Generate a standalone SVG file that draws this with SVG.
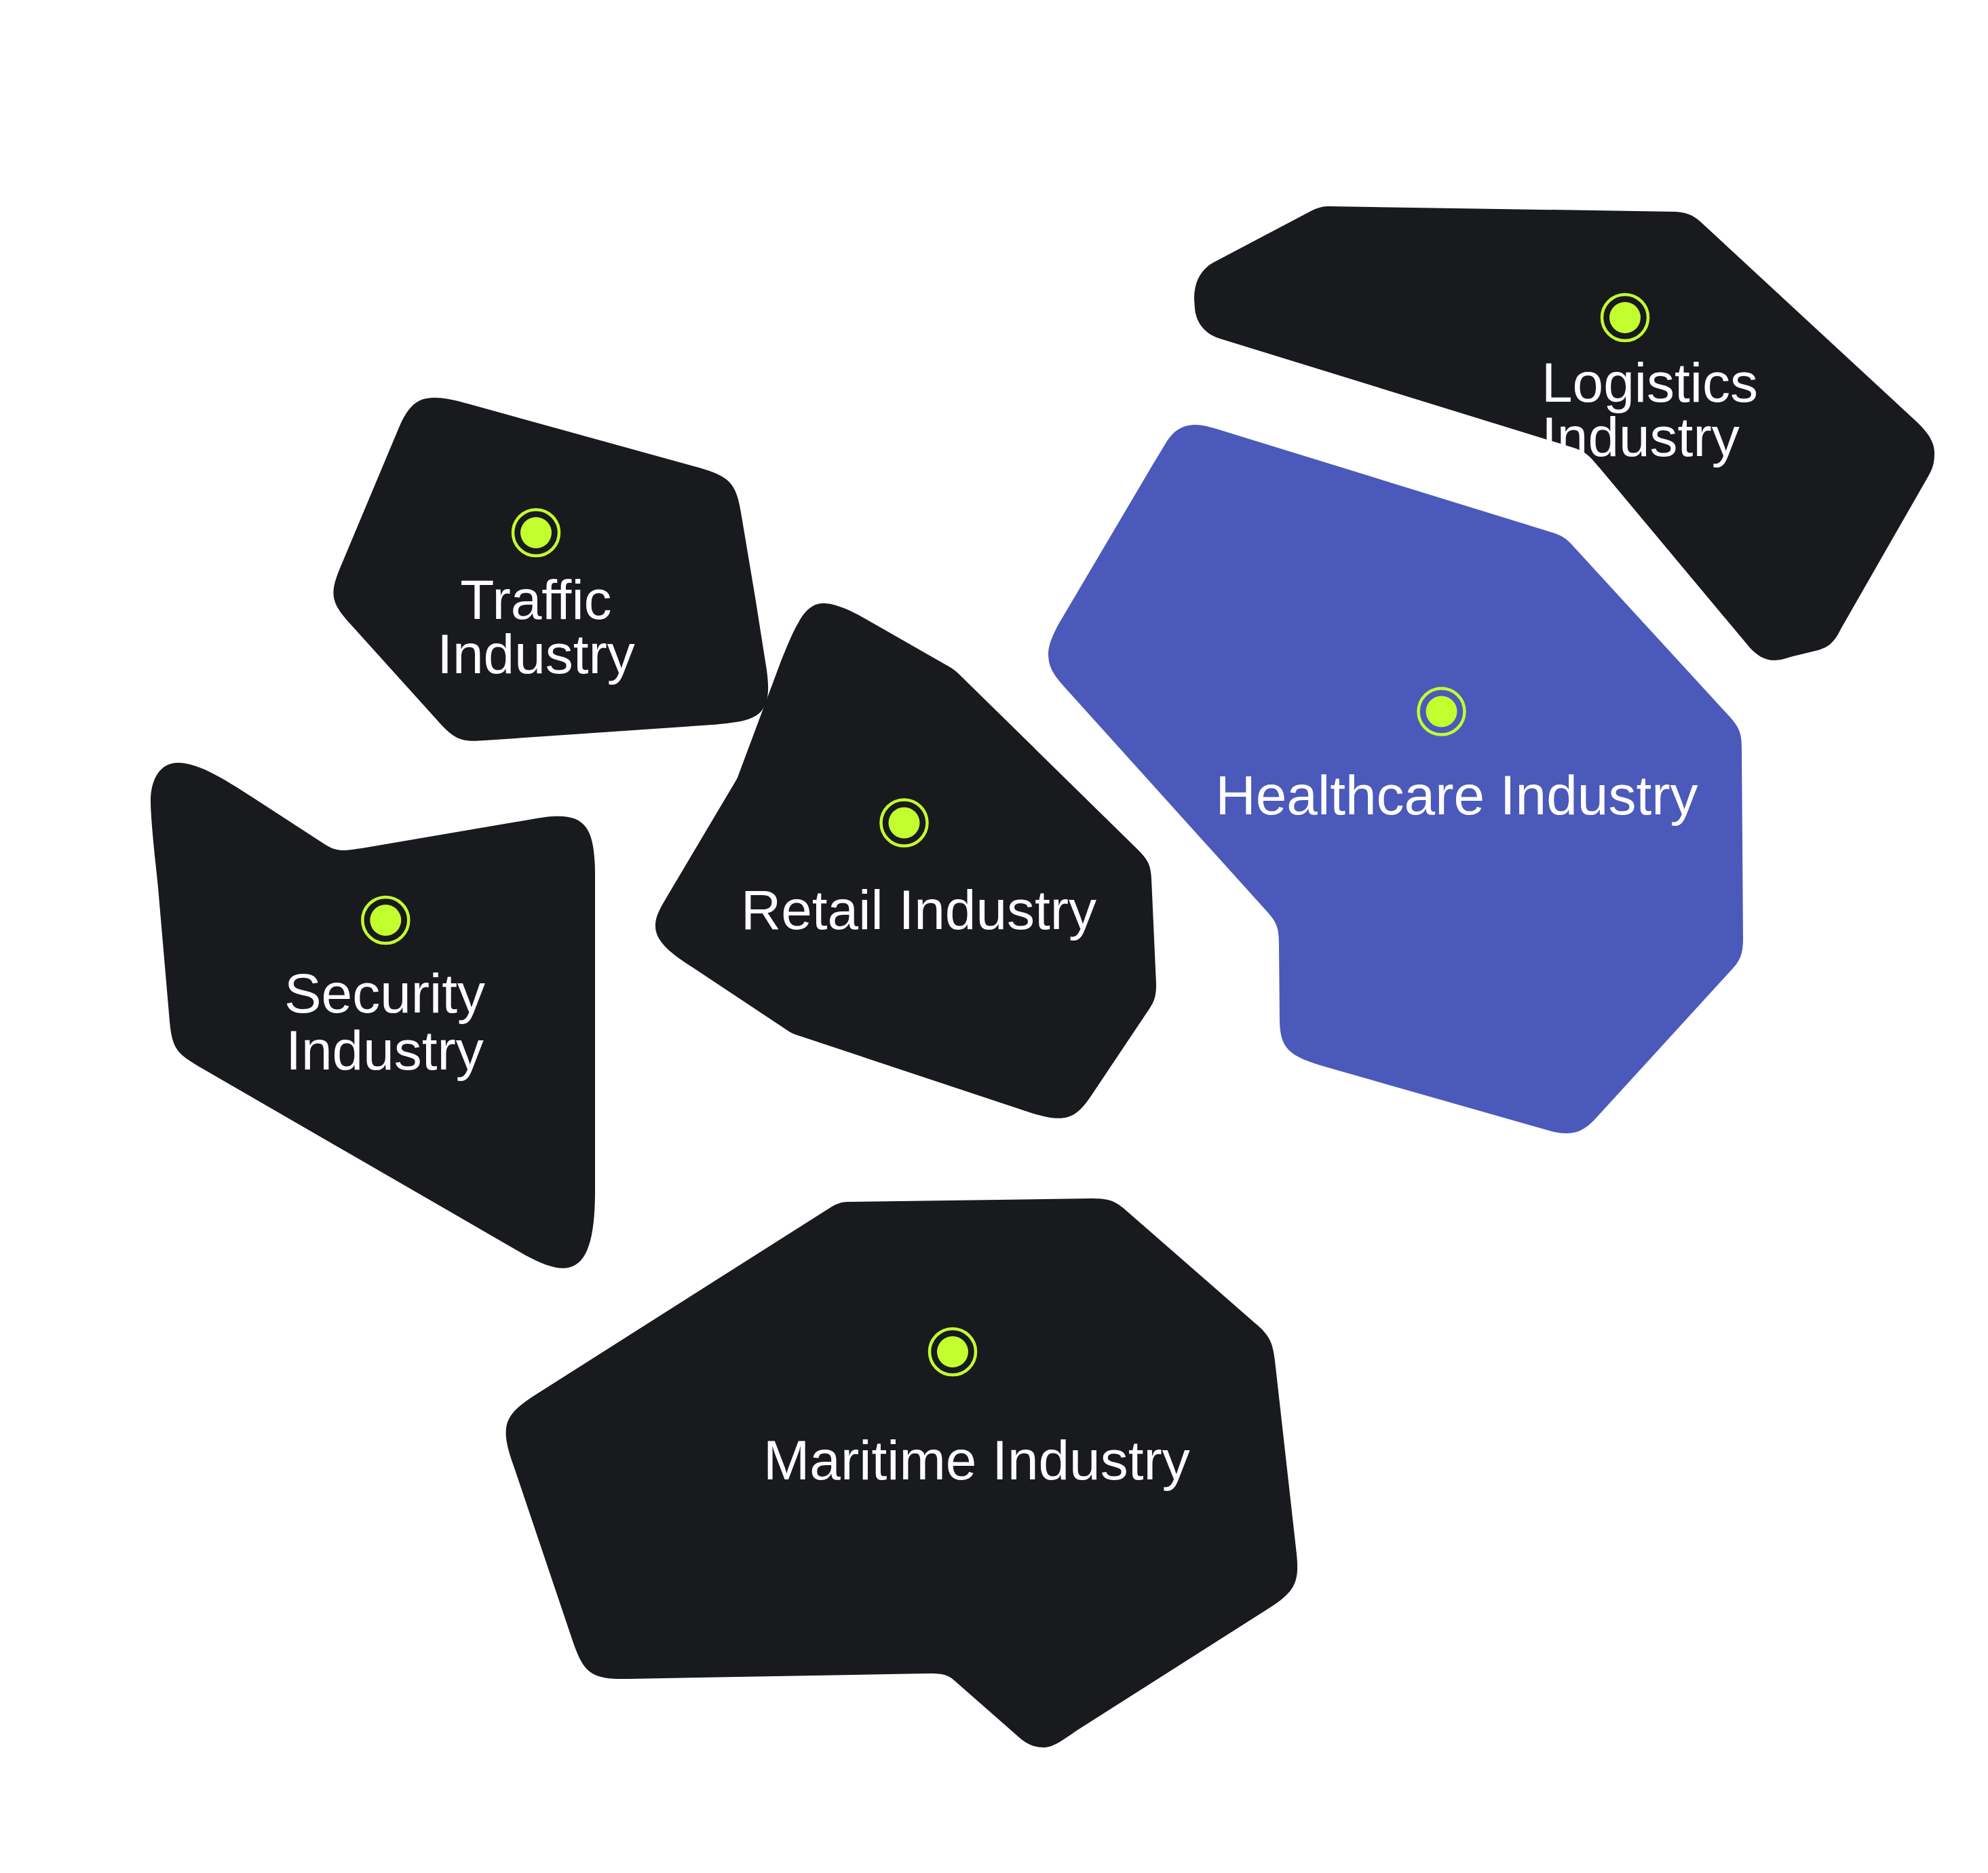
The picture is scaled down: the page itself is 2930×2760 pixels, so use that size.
<svg xmlns="http://www.w3.org/2000/svg" width="2930" height="2760" viewBox="0 0 2930 2760">
<style>
.dark{fill:#191a1e}
.blue{fill:#4b59bb}
.ring{fill:none;stroke:#c3ff2e;stroke-width:4.5}
.dot{fill:#c3ff2e}
text{font-family:"Liberation Sans",Arial,sans-serif;font-size:82px;fill:#fff;font-variant-ligatures:none}
.m{text-anchor:middle}
</style>
<rect width="2930" height="2760" fill="#fff"/>
<g id="connectors"></g>
<g id="logistics">
<path class="dark" d="M1960 304L2470 312C2490 313 2500 320 2513 333L2820 617C2842 637 2852 652 2851 670C2851 682 2848 691 2843 700L2713 927C2702 950 2692 954 2680 958L2643 967C2632 970 2624 973 2615 973C2600 973 2588 965 2577 952L2358 690C2345 675 2340 667 2320 660L1798 499C1775 492 1763 475 1761 455L1760 440C1760 415 1770 397 1788 387L1934 310C1945 305 1950 304 1960 304Z"/>
<circle class="ring" cx="2395" cy="468" r="34"/><circle class="dot" cx="2395" cy="468" r="23"/>
<text x="2272" y="592">Logistics</text><text x="2272" y="672">Industry</text>
</g>
<g id="healthcare">
<path class="blue" d="M1793 632L2289 785C2303 790 2308 793 2317 803L2551 1058C2564 1073 2567 1082 2567 1102L2569 1383C2569 1405 2565 1415 2553 1428L2350 1650C2335 1665 2325 1670 2307 1670C2298 1670 2290 1668 2283 1666L1950 1571C1900 1556 1887 1545 1886 1505L1885 1392C1885 1368 1882 1360 1869 1345L1573 1017C1555 997 1545 985 1545 963C1545 950 1553 933 1560 920L1700 683L1720 650C1730 635 1742 626 1762 626C1773 626 1783 629 1793 632Z"/>
<circle class="ring" cx="2124.5" cy="1048.5" r="34"/><circle class="dot" cx="2124.5" cy="1048.5" r="23"/>
<text x="1791.5" y="1200">Healthcare Industry</text>
</g>
<g id="traffic">
<path class="dark" d="M690 595L1030 689C1075 702 1085 712 1092 755L1113 880L1128 975C1135 1015 1133 1035 1122 1048C1110 1062 1085 1065 1050 1068L715 1091C680 1094 670 1090 645 1062L515 918C488 888 485 875 502 835L588 630C608 585 625 577 690 595Z"/>
<circle class="ring" cx="790" cy="785" r="34"/><circle class="dot" cx="790" cy="785" r="23"/>
<text class="m" x="790" y="912">Traffic</text><text class="m" x="790" y="992">Industry</text>
</g>
<g id="security">
<path class="dark" d="M380 1180L480 1245C490 1251 497 1253 507 1253C515 1253 525 1251 533 1250L785 1207C860 1193 877 1212 877 1290L877 1755C877 1880 840 1885 775 1850L299 1575C262 1553 254 1548 250 1505L233 1308C228 1260 222 1205 222 1180C222 1150 235 1124 262 1124C295 1124 335 1151 380 1180Z"/>
<circle class="ring" cx="568.3" cy="1356" r="34"/><circle class="dot" cx="568.3" cy="1356" r="23"/>
<text class="m" x="567" y="1491.5">Security</text><text class="m" x="567" y="1576">Industry</text>
</g>
<g id="retail">
<path class="dark" d="M1265 906L1400 983C1405 986 1409 989 1413 993L1677 1252C1692 1267 1696 1275 1697 1295L1704 1450C1704 1467 1702 1475 1693 1488L1610 1612C1585 1650 1570 1655 1520 1640L1180 1527C1170 1524 1166 1522 1160 1518L1020 1425C985 1403 966 1385 966 1365C966 1352 970 1343 985 1318L1083 1153C1086 1148 1087 1146 1088 1143L1150 977C1160 952 1168 932 1177 917C1186 900 1198 889 1213 889C1225 889 1240 893 1265 906Z"/>
<circle class="ring" cx="1332.5" cy="1212.5" r="34"/><circle class="dot" cx="1332.5" cy="1212.5" r="23"/>
<text x="1092" y="1368.5">Retail Industry</text>
</g>
<g id="maritime">
<path class="dark" d="M1250 1771L1607 1766C1635 1766 1643 1769 1660 1784L1850 1950C1872 1968 1876 1980 1879 2005L1911 2290C1915 2330 1910 2345 1870 2370L1587 2550C1565 2565 1552 2575 1538 2575C1525 2575 1515 2571 1503 2561L1405 2475C1395 2467 1388 2466 1365 2466L925 2474C870 2475 860 2465 843 2415L757 2160C735 2100 745 2085 785 2058L1215 1785C1226 1778 1235 1771 1250 1771Z"/>
<circle class="ring" cx="1404" cy="1992" r="34"/><circle class="dot" cx="1404" cy="1992" r="23"/>
<text x="1125" y="2180">Maritime Industry</text>
</g>
</svg>
